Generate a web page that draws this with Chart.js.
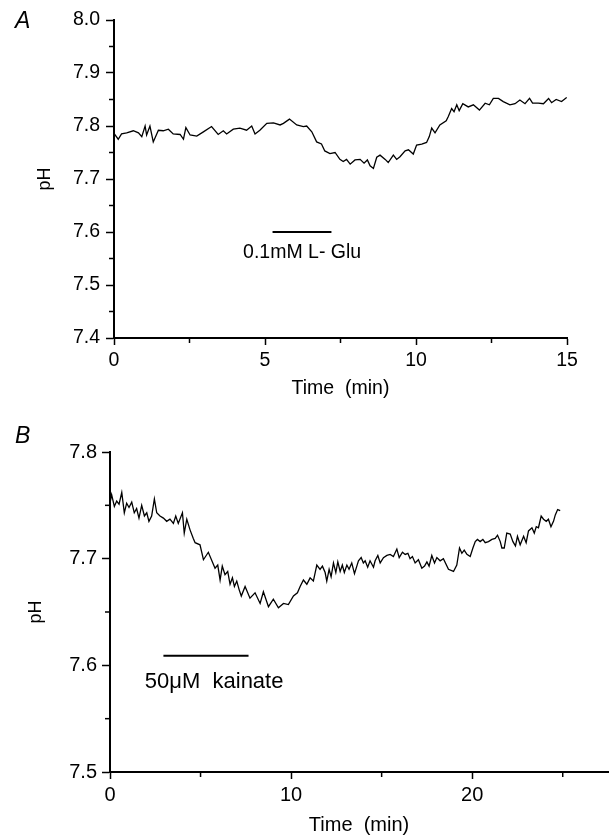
<!DOCTYPE html>
<html>
<head>
<meta charset="utf-8">
<script src="https://cdn.jsdelivr.net/npm/chart.js@4.4.1/dist/chart.umd.min.js"></script>
<style>
  body { margin: 0; background: #fff; }
  #wrap { position: relative; width: 612px; height: 839px; }
  canvas { position: absolute; left: 0; }
  #chartA { top: 0; }
  #chartB { top: 415px; }
</style>
</head>
<body>
<div id="wrap">
  <canvas id="chartA" width="612" height="410"></canvas>
  <canvas id="chartB" width="612" height="424"></canvas>
</div>
<script>
// Panel A: 0.1 mM L-Glu
const timeA = [
  0, 0.14, 0.25, 0.42, 0.64, 0.81, 0.92, 1.03, 1.08, 1.19,
  1.30, 1.47, 1.63, 1.80, 1.96, 2.19, 2.30, 2.38, 2.52, 2.74,
  2.96, 3.23, 3.45, 3.62, 3.73, 3.95, 4.17, 4.39, 4.56, 4.67,
  4.83, 5.06, 5.28, 5.50, 5.61, 5.81, 6.05, 6.27, 6.38, 6.55,
  6.71,
  6.87, 6.98, 7.15, 7.32, 7.48, 7.59, 7.70, 7.82, 7.98, 8.15,
  8.28, 8.39, 8.48, 8.59, 8.70, 8.81, 8.98, 9.08, 9.25, 9.36,
  9.47, 9.64, 9.75, 9.91, 10.02, 10.19, 10.35, 10.44, 10.52, 10.63,
  10.79, 11.00, 11.07, 11.18, 11.26, 11.35, 11.43, 11.55, 11.73, 11.90,
  12.10, 12.29, 12.43, 12.56, 12.73, 12.89, 13.11, 13.28, 13.44, 13.61,
  13.76, 13.86, 14.05, 14.22, 14.39, 14.49, 14.64, 14.82, 14.99
];
const phA = [
  7.786, 7.775, 7.785, 7.787, 7.791, 7.787, 7.780, 7.800, 7.783, 7.800,
  7.770, 7.792, 7.791, 7.794, 7.785, 7.784, 7.775, 7.797, 7.783, 7.781,
  7.789, 7.799, 7.784, 7.791, 7.785, 7.794, 7.796, 7.792, 7.800, 7.785,
  7.792, 7.805, 7.806, 7.802, 7.805, 7.813, 7.802, 7.799, 7.800, 7.789,
  7.770,
  7.766, 7.753, 7.748, 7.750, 7.737, 7.733, 7.737, 7.728, 7.736, 7.737,
  7.730, 7.736, 7.725, 7.720, 7.741, 7.745, 7.737, 7.731, 7.745, 7.737,
  7.742, 7.753, 7.755, 7.747, 7.764, 7.766, 7.769, 7.780, 7.796, 7.787,
  7.802, 7.810, 7.818, 7.833, 7.827, 7.840, 7.829, 7.842, 7.836, 7.840,
  7.830, 7.843, 7.840, 7.852, 7.852, 7.846, 7.840, 7.842, 7.849, 7.842,
  7.852, 7.843, 7.843, 7.842, 7.852, 7.844, 7.850, 7.846, 7.854
];

// Panel B: 50 uM kainate
const timeB = [
  0, 0.09, 0.24, 0.37, 0.50, 0.65, 0.79, 0.92, 1.05, 1.20,
  1.34, 1.47, 1.60, 1.75, 1.90, 2.03, 2.15, 2.30, 2.45, 2.58,
  2.76, 2.95, 3.13, 3.31, 3.50, 3.63, 3.77, 4.00, 4.10, 4.24,
  4.42, 4.60, 4.70, 4.97, 5.16, 5.43, 5.80, 5.95, 6.08, 6.20,
  6.35, 6.50, 6.63, 6.76, 6.87, 7.00, 7.13, 7.25, 7.46, 7.73,
  8.01, 8.29, 8.47, 8.75, 9.02, 9.30, 9.58, 9.85, 10.13, 10.35,
  10.50, 10.68, 10.87, 11.05, 11.23, 11.42, 11.60, 11.73, 11.88, 11.97,
  12.10, 12.21, 12.34, 12.47, 12.58, 12.71, 12.83, 12.94, 13.08, 13.20,
  13.35, 13.50, 13.63, 13.72, 13.87, 13.99, 14.09, 14.23, 14.36, 14.55,
  14.64, 14.79, 14.92, 15.10, 15.29, 15.47, 15.65, 15.84, 15.97, 16.15,
  16.30, 16.45, 16.57, 16.70, 16.85, 17.03, 17.22, 17.37, 17.50, 17.62,
  17.77, 17.92, 18.05, 18.23, 18.41, 18.69, 18.97, 19.15, 19.30, 19.43,
  19.56, 19.71, 19.89, 20.04, 20.17, 20.29, 20.44, 20.59, 20.72, 20.90,
  21.09, 21.27, 21.40, 21.55, 21.64, 21.77, 21.91, 22.10, 22.25, 22.39,
  22.50, 22.65, 22.84, 22.98, 23.11, 23.30, 23.43, 23.54, 23.66, 23.81,
  23.94, 24.09, 24.21, 24.35, 24.49, 24.59, 24.72, 24.86
];
const phB = [
  7.752, 7.760, 7.749, 7.754, 7.751, 7.762, 7.743, 7.752, 7.748, 7.753,
  7.743, 7.747, 7.738, 7.750, 7.740, 7.743, 7.735, 7.740, 7.756, 7.743,
  7.740, 7.738, 7.735, 7.737, 7.733, 7.740, 7.733, 7.743, 7.724, 7.737,
  7.727, 7.719, 7.715, 7.713, 7.699, 7.706, 7.691, 7.694, 7.680, 7.693,
  7.685, 7.688, 7.676, 7.682, 7.674, 7.679, 7.671, 7.665, 7.674, 7.663,
  7.668, 7.658, 7.669, 7.655, 7.662, 7.654, 7.658, 7.657, 7.665, 7.668,
  7.674, 7.680, 7.676, 7.682, 7.679, 7.694, 7.690, 7.693, 7.687, 7.679,
  7.690, 7.683, 7.696, 7.687, 7.697, 7.688, 7.694, 7.687, 7.694, 7.690,
  7.696, 7.686, 7.693, 7.698, 7.701, 7.696, 7.698, 7.692, 7.698, 7.692,
  7.698, 7.703, 7.696, 7.701, 7.703, 7.704, 7.702, 7.709, 7.701, 7.706,
  7.704, 7.705, 7.700, 7.702, 7.696, 7.699, 7.691, 7.693, 7.697, 7.693,
  7.703, 7.696, 7.701, 7.698, 7.700, 7.690, 7.688, 7.694, 7.710, 7.705,
  7.708, 7.704, 7.702, 7.710, 7.716, 7.718, 7.716, 7.718, 7.715, 7.716,
  7.718, 7.719, 7.722, 7.716, 7.710, 7.710, 7.724, 7.723, 7.716, 7.712,
  7.721, 7.713, 7.721, 7.715, 7.726, 7.729, 7.724, 7.730, 7.729, 7.740,
  7.737, 7.735, 7.737, 7.730, 7.735, 7.741, 7.746, 7.745
];

// application bars (start, end in min) and their pH level
const barA = [5.25, 7.2];
const barB = [2.95, 7.65];
const barLevelA = 7.6;
const barLevelB = 7.609;

// minor tick positions
const minorXA = [2.5, 7.5, 12.5];
const minorYA = [7.45, 7.55, 7.65, 7.75, 7.85, 7.95];
const minorXB = [5, 15, 25];
const minorYB = [7.55, 7.65, 7.75];

Chart.defaults.font.family = "'Liberation Sans', Arial, Helvetica, sans-serif";
Chart.defaults.color = '#000';

const toPoints = (xs, ys) => xs.map((t, i) => ({ x: t, y: ys[i] }));

// minor ticks, annotation label and panel letter
const extras = {
  id: 'extras',
  afterDraw(chart, args, o) {
    const { ctx } = chart;
    const x = chart.scales.x, y = chart.scales.y;
    ctx.save();
    ctx.strokeStyle = '#000';
    ctx.lineWidth = 1.5;
    o.minorX.forEach(v => {
      const px = x.getPixelForValue(v);
      ctx.beginPath();
      ctx.moveTo(px, y.bottom);
      ctx.lineTo(px, y.bottom + 5);
      ctx.stroke();
    });
    o.minorY.forEach(v => {
      const py = y.getPixelForValue(v);
      ctx.beginPath();
      ctx.moveTo(x.left, py);
      ctx.lineTo(x.left - 5, py);
      ctx.stroke();
    });
    ctx.fillStyle = '#000';
    ctx.font = o.labelFont;
    ctx.textAlign = 'center';
    ctx.textBaseline = 'middle';
    ctx.fillText(o.label, x.getPixelForValue(o.labelAt[0]), y.getPixelForValue(o.labelAt[1]));
    ctx.font = "italic 23px 'Liberation Sans', Arial, sans-serif";
    ctx.textAlign = 'left';
    ctx.textBaseline = 'alphabetic';
    ctx.fillText(o.letter, 15, 28);
    ctx.restore();
  }
};

function makeChart(id, cfg) {
  return new Chart(document.getElementById(id), {
    type: 'line',
    data: {
      datasets: [{
        data: toPoints(cfg.times, cfg.ph),
        borderColor: '#000',
        borderWidth: 1.3,
        pointRadius: 0,
        tension: 0
      }, {
        data: toPoints(cfg.bar, [cfg.barLevel, cfg.barLevel]),
        borderColor: '#000',
        borderWidth: 2,
        pointRadius: 0
      }]
    },
    options: {
      responsive: false,
      animation: false,
      events: [],
      layout: { padding: cfg.padding },
      plugins: {
        legend: { display: false },
        tooltip: { enabled: false },
        extras: cfg.extras
      },
      scales: {
        x: {
          type: 'linear',
          min: 0,
          max: cfg.xMax,
          afterFit: s => { s.height = cfg.xHeight; },
          border: { display: true, color: '#000', width: 2 },
          grid: { drawOnChartArea: false, drawTicks: true, tickLength: 7, color: '#000', tickWidth: 1.5 },
          ticks: { stepSize: cfg.xStep, includeBounds: false, padding: 4, maxRotation: 0,
                   font: { size: cfg.tickSize }, color: '#000' },
          title: { display: true, text: 'Time  (min)', font: { size: cfg.tickSize },
                   color: '#000', padding: { top: 0, bottom: cfg.xTitlePad } }
        },
        y: {
          min: cfg.yMin,
          max: cfg.yMax,
          afterFit: s => { s.width = cfg.yWidth; },
          border: { display: true, color: '#000', width: 2 },
          grid: { drawOnChartArea: false, drawTicks: true, tickLength: 8, color: '#000', tickWidth: 1.5 },
          ticks: { stepSize: 0.1, padding: cfg.yTickPad, font: { size: cfg.tickSize }, color: '#000',
                   callback: v => v.toFixed(1) },
          title: { display: true, text: 'pH', font: { size: 18 }, color: '#000',
                   padding: { top: cfg.yTitlePad, bottom: 0 } }
        }
      }
    },
    plugins: [extras]
  });
}

const chartA = makeChart('chartA', {
  times: timeA, ph: phA, bar: barA, barLevel: barLevelA,
  xMax: 15, xStep: 5, yMin: 7.4, yMax: 8.0,
  padding: { top: 20, right: 45, bottom: 0, left: 0 },
  xHeight: 72, yWidth: 114, tickSize: 19.5, xTitlePad: 10, yTickPad: 6, yTitlePad: 34,
  extras: { minorX: minorXA, minorY: minorYA, label: '0.1mM L- Glu', labelAt: [6.23, 7.562],
            labelFont: "19.5px 'Liberation Sans', Arial, sans-serif", letter: 'A' }
});

const chartB = makeChart('chartB', {
  times: timeB, ph: phB, bar: barB, barLevel: barLevelB,
  xMax: 27.5, xStep: 10, yMin: 7.5, yMax: 7.8,
  padding: { top: 37, right: 4, bottom: 0, left: 0 },
  xHeight: 67, yWidth: 110, tickSize: 20, xTitlePad: 2, yTickPad: 5, yTitlePad: 25,
  extras: { minorX: minorXB, minorY: minorYB, label: '50\u03bcM  kainate', labelAt: [5.75, 7.584],
            labelFont: "22px 'Liberation Sans', Arial, sans-serif", letter: 'B' }
});
</script>
</body>
</html>
